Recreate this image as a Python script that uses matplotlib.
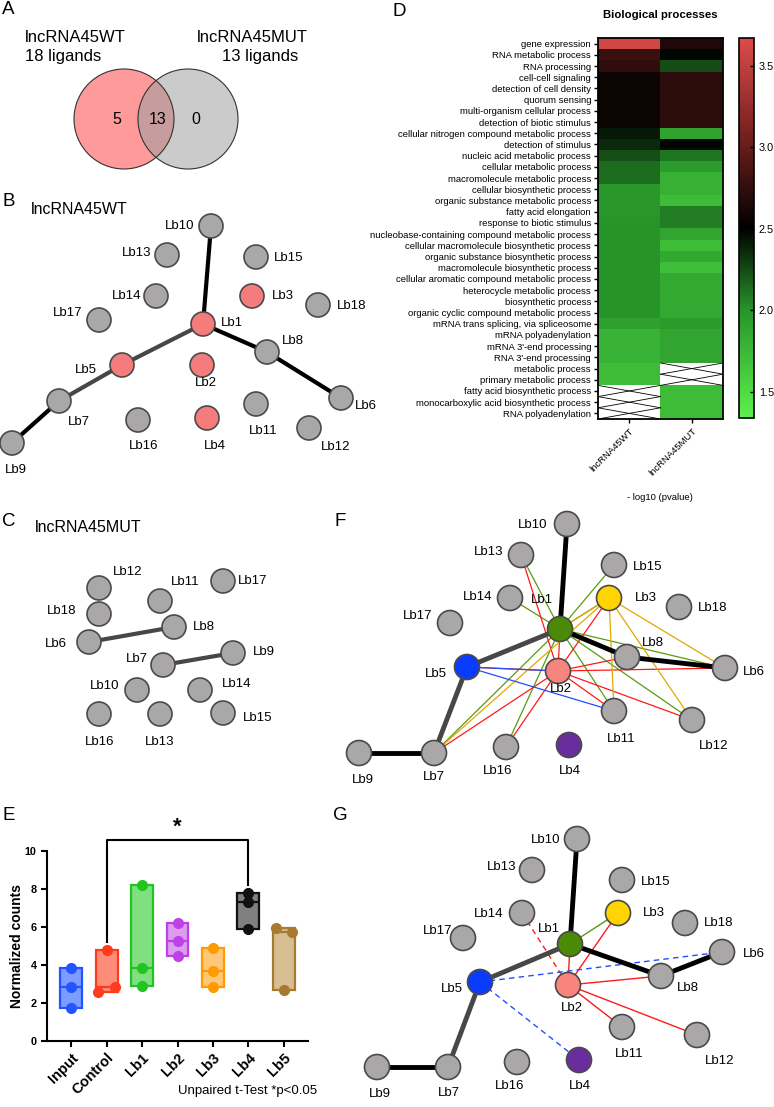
import numpy as np
import matplotlib
matplotlib.use("Agg")
import matplotlib.pyplot as plt
from matplotlib.patches import Circle
from matplotlib.colors import LinearSegmentedColormap

plt.rcParams['font.family'] = ['Liberation Sans', 'DejaVu Sans']

# ---- data ----

venn_counts = [5, 13, 0]
venn_names = ["lncRNA45WT", "lncRNA45MUT"]
venn_totals = [18, 13]

# node layouts (pixel positions as drawn in the original figure)
B_POS = {"Lb1": (203, 324), "Lb2": (202, 365), "Lb3": (252, 296), "Lb4": (207, 418), "Lb5": (122, 365),
         "Lb6": (341, 398), "Lb7": (59, 401), "Lb8": (267, 352), "Lb9": (12, 443), "Lb10": (211, 226),
         "Lb11": (256, 404), "Lb12": (309, 428), "Lb13": (167, 255), "Lb14": (156, 296), "Lb15": (256, 257),
         "Lb16": (138, 420), "Lb17": (99, 320), "Lb18": (318, 305)}
B_LAB = {"Lb1": (232, 323), "Lb2": (206, 383), "Lb3": (283, 296), "Lb4": (215, 446), "Lb5": (86, 370),
         "Lb6": (366, 406), "Lb7": (79, 422), "Lb8": (293, 341), "Lb9": (16, 470), "Lb10": (180, 226),
         "Lb11": (263, 431), "Lb12": (336, 447), "Lb13": (137, 253), "Lb14": (127, 296), "Lb15": (289, 258),
         "Lb16": (144, 446), "Lb17": (68, 313), "Lb18": (352, 306)}
B_EDGES = [("Lb10", "Lb1", "k"), ("Lb1", "Lb5", "d"), ("Lb5", "Lb7", "d"), ("Lb7", "Lb9", "k"),
           ("Lb1", "Lb8", "k"), ("Lb8", "Lb6", "k")]
B_HIGHLIGHT = {"Lb1": "#f47c7c", "Lb2": "#f47c7c", "Lb3": "#f47c7c", "Lb4": "#f47c7c", "Lb5": "#f47c7c"}

C_POS = {"Lb6": (89, 642), "Lb7": (163, 665), "Lb8": (174, 627), "Lb9": (233, 653), "Lb10": (137, 690),
         "Lb11": (160, 601), "Lb12": (99, 588), "Lb13": (160, 714), "Lb14": (200, 690), "Lb15": (223, 713),
         "Lb16": (99, 714), "Lb17": (223, 581), "Lb18": (99, 614)}
C_LAB = {"Lb6": (56, 644), "Lb7": (137, 659), "Lb8": (204, 627), "Lb9": (264, 652), "Lb10": (105, 686),
         "Lb11": (185, 582), "Lb12": (128, 572), "Lb13": (160, 742), "Lb14": (237, 684), "Lb15": (258, 718),
         "Lb16": (100, 742), "Lb17": (253, 581), "Lb18": (62, 611)}
C_EDGES = [("Lb6", "Lb8", "d"), ("Lb7", "Lb9", "d")]

F_POS = {"Lb1": (560, 629), "Lb2": (558, 671), "Lb3": (609, 598), "Lb4": (569, 745), "Lb5": (467, 667),
         "Lb6": (725, 668), "Lb7": (434, 753), "Lb8": (627, 657), "Lb9": (359, 753), "Lb10": (567, 524),
         "Lb11": (614, 711), "Lb12": (692, 720), "Lb13": (521, 555), "Lb14": (510, 598), "Lb15": (614, 565),
         "Lb16": (506, 747), "Lb17": (450, 623), "Lb18": (679, 607)}
F_LAB = {"Lb1": (542, 600), "Lb2": (561, 689), "Lb3": (646, 598), "Lb4": (570, 771), "Lb5": (436, 674),
         "Lb6": (754, 672), "Lb7": (434, 777), "Lb8": (653, 643), "Lb9": (363, 780), "Lb10": (533, 525),
         "Lb11": (621, 739), "Lb12": (714, 746), "Lb13": (489, 552), "Lb14": (478, 597), "Lb15": (648, 567),
         "Lb16": (498, 771), "Lb17": (418, 616), "Lb18": (713, 608)}

G_POS = {"Lb1": (570, 944), "Lb2": (568, 985), "Lb3": (618, 913), "Lb4": (579, 1060), "Lb5": (480, 982),
         "Lb6": (722, 952), "Lb7": (448, 1067), "Lb8": (661, 976), "Lb9": (377, 1067), "Lb10": (577, 839),
         "Lb11": (622, 1027), "Lb12": (697, 1035), "Lb13": (532, 870), "Lb14": (522, 913), "Lb15": (622, 880),
         "Lb16": (517, 1062), "Lb17": (463, 938), "Lb18": (685, 923)}
G_LAB = {"Lb1": (549, 929), "Lb2": (572, 1008), "Lb3": (654, 913), "Lb4": (580, 1086), "Lb5": (452, 989),
         "Lb6": (754, 954), "Lb7": (449, 1093), "Lb8": (688, 988), "Lb9": (380, 1094), "Lb10": (546, 840),
         "Lb11": (629, 1054), "Lb12": (720, 1061), "Lb13": (502, 867), "Lb14": (489, 914), "Lb15": (656, 882),
         "Lb16": (510, 1086), "Lb17": (438, 931), "Lb18": (719, 923)}

LIGAND_COLORS = {"Lb1": "#4b8a06", "Lb2": "#f8847e", "Lb3": "#ffd400", "Lb4": "#6a2d9e", "Lb5": "#0a3cff"}

BACKBONE = [("Lb10", "Lb1", "k"), ("Lb1", "Lb5", "d"), ("Lb5", "Lb7", "d"), ("Lb7", "Lb9", "k"),
            ("Lb1", "Lb8", "k"), ("Lb8", "Lb6", "k")]
F_LINKS = {
    "Lb1": ["Lb13", "Lb14", "Lb15", "Lb3", "Lb5", "Lb6", "Lb12", "Lb11", "Lb16", "Lb7", "Lb8"],
    "Lb2": ["Lb13", "Lb3", "Lb5", "Lb6", "Lb8", "Lb11", "Lb12", "Lb16", "Lb7", "Lb1"],
    "Lb3": ["Lb1", "Lb6", "Lb12", "Lb11", "Lb7"],
    "Lb5": ["Lb1", "Lb2", "Lb11"],
}
G_LINKS = [("Lb1", "Lb3", "Lb1", "-"), ("Lb3", "Lb2", "Lb2", "-"), ("Lb1", "Lb2", "Lb2", "-"),
           ("Lb2", "Lb8", "Lb2", "-"), ("Lb2", "Lb11", "Lb2", "-"), ("Lb2", "Lb12", "Lb2", "-"),
           ("Lb14", "Lb2", "Lb2", "--"), ("Lb5", "Lb6", "Lb5", "--"), ("Lb5", "Lb4", "Lb5", "--")]
LINK_COLORS = {"Lb1": "#5a9a10", "Lb2": "#ff1a1a", "Lb3": "#e0a800", "Lb5": "#1f4fff"}

# GO enrichment, -log10(p)
go_terms = ["gene expression", "RNA metabolic process", "RNA processing", "cell-cell signaling",
            "detection of cell density", "quorum sensing", "multi-organism cellular process",
            "detection of biotic stimulus", "cellular nitrogen compound metabolic process",
            "detection of stimulus", "nucleic acid metabolic process", "cellular metabolic process",
            "macromolecule metabolic process", "cellular biosynthetic process",
            "organic substance metabolic process", "fatty acid elongation", "response to biotic stimulus",
            "nucleobase-containing compound metabolic process", "cellular macromolecule biosynthetic process",
            "organic substance biosynthetic process", "macromolecule biosynthetic process",
            "cellular aromatic compound metabolic process", "heterocycle metabolic process",
            "biosynthetic process", "organic cyclic compound metabolic process",
            "mRNA trans splicing, via spliceosome", "mRNA polyadenylation", "mRNA 3'-end processing",
            "RNA 3'-end processing", "metabolic process", "primary metabolic process",
            "fatty acid biosynthetic process", "monocarboxylic acid biosynthetic process", "RNA polyadenylation"]
go_samples = ["lncRNA45WT", "lncRNA45MUT"]
wt_pval = [3.60, 2.78, 2.74, 2.56, 2.56, 2.56, 2.56, 2.56, 2.42, 2.36, 2.24, 2.14, 2.14, 1.98, 1.98,
           1.99, 2.0, 2.0, 2.0, 2.0, 2.0, 2.0, 2.0, 2.0, 2.0, 1.92, 1.78, 1.78, 1.78, 1.72, 1.72,
           np.nan, np.nan, np.nan]
mut_pval = [2.66, 2.48, 2.25, 2.72, 2.72, 2.72, 2.72, 2.72, 1.90, 2.48, 2.10, 1.95, 1.80, 1.80, 1.72,
            2.08, 2.08, 1.88, 1.72, 1.85, 1.70, 1.85, 1.85, 1.85, 1.85, 1.95, 1.88, 1.88, 1.88,
            np.nan, np.nan, 1.72, 1.72, 1.72]

# normalized counts
groups = ["Input", "Control", "Lb1", "Lb2", "Lb3", "Lb4", "Lb5"]
counts = [[3.86, 2.83, 1.75], [4.79, 2.86, 2.60], [8.19, 3.86, 2.90], [6.19, 5.26, 4.47],
          [4.91, 3.70, 2.86], [7.77, 7.30, 5.88], [5.93, 5.75, 2.70]]
jitter = [[0, 0, 0], [0, 0.23, -0.23], [0, 0, 0], [0, 0, 0], [0, 0, 0], [0, 0, 0], [-0.23, 0.23, 0]]
edge_cols = ["#2255ff", "#ff3b1f", "#22c422", "#c040e8", "#ff9a00", "#111111", "#a87a30"]
fill_cols = ["#7c9cff", "#ff8c78", "#80e080", "#dd9cf0", "#ffc878", "#808080", "#d6bd92"]

# ---- figure ----
W, H = 774, 1107
fig = plt.figure(figsize=(W / 100, H / 100), dpi=100)
ov = fig.add_axes([0, 0, 1, 1])
ov.set_xlim(0, W)
ov.set_ylim(H, 0)
ov.axis('off')

GRAY = "#a9a7a7"
NODE_EDGE = "#4a4a4a"
THICK = {"k": "#000000", "d": "#474747"}


def node(ax, xy, color, r=12):
    ax.add_patch(Circle(xy, r, fc=color, ec=NODE_EDGE, lw=1.2, zorder=3))


def network(ax, pos, lab, backbone, colors, r=12, lw=3.2):
    for a, b, c in backbone:
        (x0, y0), (x1, y1) = pos[a], pos[b]
        ax.plot([x0, x1], [y0, y1], color=THICK[c], lw=lw, solid_capstyle='butt', zorder=2)
    for name, xy in pos.items():
        node(ax, xy, colors.get(name, GRAY), r)
    for name, xy in lab.items():
        ax.text(xy[0], xy[1], name, ha='center', va='center', fontsize=9.5, zorder=4)


# panel letters
for letter, x, y in [("A", 2, 10), ("B", 2, 202), ("C", 2, 522), ("D", 392, 12),
                     ("E", 2, 815), ("F", 335, 521), ("G", 333, 815)]:
    ov.text(x, y, letter, fontsize=13.5, ha='left', va='center')

# A: Venn
left = Circle((124, 119), 50, fc="#fe9a9a", ec='none')
right = Circle((188, 119), 50, fc="#cbcbcb", ec='none')
ov.add_patch(left)
ov.add_patch(right)
inter = Circle((188, 119), 50, fc="#c69c9c", ec='none')
ov.add_patch(inter)
inter.set_clip_path(left)
ov.add_patch(Circle((124, 119), 50, fill=False, ec="#333333", lw=0.8))
ov.add_patch(Circle((188, 119), 50, fill=False, ec="#333333", lw=0.8))
for v, x in zip(venn_counts, [117, 158, 196]):
    ov.text(x, 120, str(v), ha='center', va='center', fontsize=11.5)
ov.text(25, 37, venn_names[0], ha='left', va='center', fontsize=12)
ov.text(25, 56, f"{venn_totals[0]} ligands", ha='left', va='center', fontsize=12)
ov.text(197, 37, venn_names[1], ha='left', va='center', fontsize=12)
ov.text(222, 56, f"{venn_totals[1]} ligands", ha='left', va='center', fontsize=12)

# B / C
ov.text(31, 210, "lncRNA45WT", ha='left', va='center', fontsize=11.5)
network(ov, B_POS, B_LAB, B_EDGES, B_HIGHLIGHT, r=12, lw=3.0)
ov.text(35, 528, "lncRNA45MUT", ha='left', va='center', fontsize=11.5)
network(ov, C_POS, C_LAB, C_EDGES, {}, r=12, lw=3.0)

# F
for src, targets in F_LINKS.items():
    for t in targets:
        (x0, y0), (x1, y1) = F_POS[src], F_POS[t]
        ov.plot([x0, x1], [y0, y1], color=LINK_COLORS[src], lw=0.9, zorder=1.5)
network(ov, F_POS, F_LAB, BACKBONE, LIGAND_COLORS, r=12.5, lw=3.5)

# G
for a, b, src, ls in G_LINKS:
    (x0, y0), (x1, y1) = G_POS[a], G_POS[b]
    ov.plot([x0, x1], [y0, y1], color=LINK_COLORS[src], lw=1.0, ls=ls,
            dashes=(4, 3) if ls == "--" else (None, None), zorder=1.5)
network(ov, G_POS, G_LAB, BACKBONE, LIGAND_COLORS, r=12.5, lw=3.5)

# D: heatmap
hm = fig.add_axes([598 / W, 1 - 419 / H, 125 / W, 381 / H])
cmap = LinearSegmentedColormap.from_list(
    "gbr", [(0, "#5cf04c"), (0.28, "#28962a"), (0.5, "#000000"), (0.72, "#6a1c1c"), (1, "#dc4c48")])
vals = np.array([wt_pval, mut_pval], dtype=float).T
im = hm.imshow(np.ma.masked_invalid(vals), cmap=cmap, vmin=1.34, vmax=3.67,
               aspect='auto', interpolation='nearest')
hm.set_facecolor('white')
for i, j in zip(*np.where(np.isnan(vals))):
    hm.plot([j - 0.5, j + 0.5], [i - 0.5, i + 0.5], color='k', lw=0.6)
    hm.plot([j - 0.5, j + 0.5], [i + 0.5, i - 0.5], color='k', lw=0.6)
hm.set_xlim(-0.5, 1.5)
hm.set_ylim(len(go_terms) - 0.5, -0.5)
hm.set_yticks(range(len(go_terms)))
hm.set_yticklabels(go_terms, fontsize=6.8)
hm.set_xticks([0, 1])
hm.set_xticklabels(go_samples, fontsize=6.8, rotation=45, ha='right', rotation_mode='anchor')
hm.tick_params(length=3, width=1, pad=2)
for s in hm.spines.values():
    s.set_linewidth(1.3)
ov.text(660, 15, "Biological processes", ha='center', va='center', fontsize=8.2, fontweight='bold')
ov.text(660, 497, "- log10 (pvalue)", ha='center', va='center', fontsize=6.8)

cax = fig.add_axes([739 / W, 1 - 418 / H, 15 / W, 380 / H])
cb = fig.colorbar(im, cax=cax, ticks=[1.5, 2.0, 2.5, 3.0, 3.5])
cb.ax.set_yticklabels(["1.5", "2.0", "2.5", "3.0", "3.5"])
cb.ax.tick_params(labelsize=7.8, length=3, width=1, direction='in')
cb.outline.set_linewidth(1.2)

# E: floating bars
bx = fig.add_axes([47 / W, 1 - 1041 / H, 261 / W, 190 / H])
for i, vals_i in enumerate(counts):
    lo, hi, med = min(vals_i), max(vals_i), float(np.median(vals_i))
    bx.bar(i, hi - lo, bottom=lo, width=0.62, color=fill_cols[i], edgecolor=edge_cols[i], lw=1.6, zorder=2)
    bx.hlines(med, i - 0.31, i + 0.31, color=edge_cols[i], lw=1.6, zorder=3)
    bx.plot(np.array(jitter[i]) + i, vals_i, 'o', ms=7, color=edge_cols[i], zorder=4, clip_on=False)
bx.set_xlim(-0.68, 6.68)
bx.set_ylim(0, 10)
bx.set_yticks([0, 2, 4, 6, 8, 10])
bx.set_xticks(range(len(groups)))
bx.set_xticklabels(groups, rotation=45, ha='right', rotation_mode='anchor', fontsize=10.5, fontweight='bold')
for lbl in bx.get_yticklabels():
    lbl.set_fontweight('bold')
bx.tick_params(axis='y', labelsize=7.8, length=4, width=1.5)
bx.tick_params(axis='x', length=4, width=1.5, pad=3)
bx.spines['top'].set_visible(False)
bx.spines['right'].set_visible(False)
bx.spines['left'].set_linewidth(1.5)
bx.spines['bottom'].set_linewidth(1.5)
bx.set_ylabel("Normalized counts", fontsize=10, fontweight='bold')
bx.yaxis.set_label_coords(-0.088, 0.5)
bx.set_facecolor('none')
bx.plot([1, 1, 5, 5], [5.2, 10.6, 10.6, 8.2], color='k', lw=1.5, clip_on=False)
bx.text(3, 11.25, "*", ha='center', va='center', fontsize=16, fontweight='bold')
ov.text(248, 1091, "Unpaired t-Test *p<0.05", ha='center', va='center', fontsize=9.5)

fig.savefig("out.png", dpi=100)
